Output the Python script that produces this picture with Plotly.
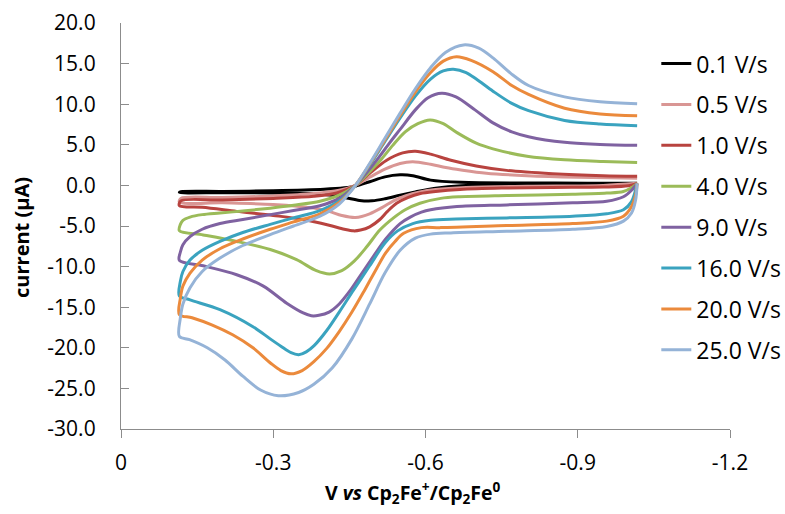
import plotly.graph_objects as go

# Scan-rate labels and line colours for each voltammogram
scan_rates = ["0.1 V/s", "0.5 V/s", "1.0 V/s", "4.0 V/s", "9.0 V/s", "16.0 V/s", "20.0 V/s", "25.0 V/s"]
colors = ["#000000", "#D99694", "#B8433F", "#9BBB59", "#7F62A1", "#3AA3BF", "#EB8A3C", "#95B3D7"]

# Each loop: cathodic sweep from the right end to the left end, then the anodic return sweep
v_01 = [-1.017, -0.90, -0.75, -0.67, -0.62, -0.58, -0.55, -0.52, -0.495, -0.47, -0.445, -0.42, -0.38, -0.30, -0.20, -0.115,
        -0.118, -0.20, -0.30, -0.40, -0.44, -0.462, -0.49, -0.52, -0.55, -0.575, -0.61, -0.67, -0.80, -0.92, -1.017]
i_01 = [0.25, 0.12, 0.05, -0.05, -0.35, -0.8, -1.2, -1.65, -1.9, -1.85, -1.55, -1.25, -1.02, -0.93, -0.9, -0.87,
        -0.78, -0.74, -0.66, -0.48, -0.3, -0.1, 0.45, 1.05, 1.3, 1.2, 0.65, 0.38, 0.3, 0.28, 0.28]

v_05 = [-1.017, -0.95, -0.80, -0.68, -0.62, -0.589, -0.56, -0.537, -0.515, -0.49, -0.462, -0.435, -0.41, -0.38, -0.30, -0.20, -0.115,
        -0.118, -0.20, -0.30, -0.38, -0.43, -0.462, -0.49, -0.52, -0.55, -0.575, -0.61, -0.64, -0.67, -0.72, -0.80, -0.90, -1.017]
i_05 = [0.25, 0.0, -0.1, -0.25, -0.5, -0.8, -1.3, -1.9, -2.7, -3.5, -3.95, -3.7, -3.2, -2.8, -2.35, -2.15, -2.05,
        -1.6, -1.5, -1.3, -1.0, -0.6, 0.0, 1.0, 2.0, 2.7, 2.9, 2.6, 2.2, 1.9, 1.5, 1.2, 1.0, 0.88]

v_10 = [-1.017, -1.0, -0.95, -0.85, -0.75, -0.668, -0.62, -0.59, -0.565, -0.543, -0.525, -0.51, -0.49, -0.472, -0.458, -0.44, -0.41, -0.36, -0.30, -0.228, -0.16, -0.115,
        -0.118, -0.20, -0.30, -0.38, -0.425, -0.462, -0.49, -0.5235, -0.555, -0.58, -0.61, -0.65, -0.70, -0.76, -0.85, -0.95, -1.017]
i_10 = [0.25, -0.05, -0.2, -0.25, -0.33, -0.5, -0.75, -1.0, -1.5, -2.2, -3.2, -4.2, -5.1, -5.5, -5.6, -5.4, -4.9, -4.2, -3.7, -3.2, -2.7, -2.5,
        -1.9, -1.8, -1.6, -1.35, -0.94, 0.0, 1.5, 3.1, 4.0, 4.2, 3.85, 3.1, 2.4, 1.85, 1.45, 1.2, 1.12]

v_40 = [-1.017, -1.006, -0.99, -0.957, -0.89, -0.76, -0.668, -0.63, -0.589, -0.56, -0.537, -0.51, -0.485, -0.46, -0.435, -0.411, -0.385, -0.346, -0.294, -0.228, -0.162, -0.115,
        -0.117, -0.122, -0.136, -0.16, -0.195, -0.24, -0.294, -0.34, -0.392, -0.43, -0.462, -0.49, -0.51, -0.535, -0.56, -0.585, -0.609, -0.635, -0.662, -0.70, -0.733, -0.80, -0.874, -0.95, -1.017]
i_40 = [0.25, -0.3, -0.75, -0.95, -1.1, -1.25, -1.4, -1.6, -2.2, -3.0, -4.0, -5.5, -7.5, -9.3, -10.5, -10.9, -10.5, -9.15, -7.9, -6.9, -6.1, -5.58,
        -4.8, -4.3, -3.9, -3.6, -3.4, -3.15, -2.8, -2.45, -1.95, -1.2, 0.0, 1.7, 3.0, 4.9, 6.6, 7.6, 8.05, 7.6, 6.5, 5.2, 4.5, 3.6, 3.15, 2.95, 2.83]

v_90 = [-1.017, -1.006, -0.99, -0.957, -0.89, -0.76, -0.662, -0.61, -0.592, -0.57, -0.55, -0.5216, -0.50, -0.476, -0.451, -0.43, -0.41, -0.39, -0.375, -0.359, -0.3265, -0.2805, -0.228, -0.162, -0.115,
        -0.117, -0.122, -0.136, -0.16, -0.195, -0.24, -0.294, -0.34, -0.392, -0.43, -0.462, -0.50, -0.53, -0.55, -0.58, -0.605, -0.632, -0.66, -0.6975, -0.733, -0.77, -0.803, -0.874, -0.944, -1.017]
i_90 = [0.25, -0.6, -1.4, -1.95, -2.15, -2.4, -2.6, -3.0, -3.3, -3.9, -4.7, -6.6, -8.5, -10.7, -13.0, -14.6, -15.6, -16.0, -16.05, -15.7, -14.5, -12.4, -11.0, -9.9, -9.24,
        -8.2, -7.3, -6.3, -5.4, -4.7, -4.2, -3.6, -3.1, -2.5, -1.6, 0.0, 2.8, 5.3, 6.9, 9.3, 10.8, 11.35, 10.9, 9.3, 7.7, 6.6, 6.0, 5.3, 5.05, 4.93]

v_160 = [-1.017, -1.006, -0.99, -0.957, -0.89, -0.76, -0.66, -0.61, -0.575, -0.545, -0.52, -0.49, -0.458, -0.43, -0.405, -0.381, -0.365, -0.35, -0.335, -0.315, -0.294, -0.26, -0.195, -0.136, -0.115,
         -0.117, -0.122, -0.136, -0.16, -0.195, -0.24, -0.294, -0.34, -0.392, -0.43, -0.462, -0.49, -0.52, -0.55, -0.58, -0.61, -0.635, -0.655, -0.68, -0.70, -0.733, -0.77, -0.803, -0.874, -0.944, -1.017]
i_160 = [0.25, -2.0, -3.0, -3.5, -3.8, -4.0, -4.15, -4.3, -4.7, -5.6, -7.1, -9.9, -12.9, -15.6, -17.9, -19.7, -20.5, -20.85, -20.6, -19.8, -18.9, -17.4, -15.3, -14.1, -13.6,
         -11.8, -10.6, -9.2, -8.0, -6.9, -5.8, -4.8, -4.0, -3.1, -1.9, 0.0, 2.5, 5.4, 8.3, 11.0, 13.1, 14.1, 14.3, 13.9, 13.1, 11.6, 10.1, 9.2, 8.0, 7.55, 7.35]

v_200 = [-1.017, -1.014, -1.006, -0.99, -0.957, -0.89, -0.76, -0.63, -0.592, -0.557, -0.54, -0.5216, -0.504, -0.48, -0.455, -0.43, -0.405, -0.38, -0.357, -0.335, -0.315, -0.295, -0.26, -0.22, -0.18, -0.14, -0.115,
         -0.117, -0.122, -0.136, -0.16, -0.195, -0.24, -0.294, -0.34, -0.392, -0.43, -0.462, -0.49, -0.52, -0.55, -0.58, -0.61, -0.635, -0.661, -0.69, -0.733, -0.77, -0.803, -0.874, -0.944, -1.017]
i_200 = [0.25, -1.2, -2.6, -3.8, -4.4, -4.7, -4.95, -5.2, -5.2, -5.9, -6.9, -8.3, -10.2, -12.9, -15.6, -18.0, -20.1, -21.7, -22.8, -23.2, -22.8, -21.9, -20.0, -18.4, -17.2, -16.3, -15.9,
         -13.9, -12.4, -10.8, -9.2, -7.8, -6.6, -5.4, -4.5, -3.5, -2.1, 0.0, 2.6, 5.6, 8.6, 11.5, 13.9, 15.3, 15.85, 15.4, 14.0, 12.3, 11.2, 9.5, 8.8, 8.58]

v_250 = [-1.017, -1.014, -1.006, -0.99, -0.957, -0.89, -0.76, -0.65, -0.61, -0.58, -0.55, -0.52, -0.49, -0.455, -0.416, -0.38, -0.35, -0.31, -0.275, -0.24, -0.205, -0.17, -0.135, -0.115,
         -0.117, -0.122, -0.136, -0.16, -0.195, -0.24, -0.294, -0.34, -0.392, -0.43, -0.462, -0.49, -0.52, -0.55, -0.58, -0.61, -0.64, -0.675, -0.705, -0.733, -0.768, -0.803, -0.874, -0.944, -1.017]
i_250 = [0.25, -1.8, -3.4, -4.4, -5.05, -5.4, -5.65, -5.85, -6.0, -6.5, -8.0, -10.8, -14.6, -18.9, -22.5, -24.5, -25.5, -25.9, -25.2, -23.5, -21.5, -20.0, -19.0, -18.6,
         -16.3, -14.6, -12.6, -10.6, -8.95, -7.4, -6.07, -5.0, -3.8, -2.3, 0.0, 2.7, 5.8, 8.9, 11.9, 14.5, 16.4, 17.3, 16.9, 15.7, 13.8, 12.3, 10.9, 10.3, 10.06]

potentials = [v_01, v_05, v_10, v_40, v_90, v_160, v_200, v_250]
currents = [i_01, i_05, i_10, i_40, i_90, i_160, i_200, i_250]

# Axis ticks
x_tickvals = [0, -0.3, -0.6, -0.9, -1.2]
x_ticktext = ["0", "-0.3", "-0.6", "-0.9", "-1.2"]
y_tickvals = [20, 15, 10, 5, 0, -5, -10, -15, -20, -25, -30]
y_ticktext = ["20.0", "15.0", "10.0", "5.0", "0.0", "-5.0", "-10.0", "-15.0", "-20.0", "-25.0", "-30.0"]

FONT = "Open Sans, Liberation Sans, sans-serif"

fig = go.Figure()
for k, (name, col) in enumerate(zip(scan_rates, colors)):
    fig.add_trace(go.Scatter(
        x=potentials[k], y=currents[k], mode="lines", name=name,
        legendgroup=name,
        line=dict(color=col, width=3, shape="spline", smoothing=0.9),
    ))

axis_grey = "#8C8C8C"
fig.update_layout(
    width=785, height=514,
    margin=dict(l=121, r=55, t=23, b=85, autoexpand=False),
    paper_bgcolor="white", plot_bgcolor="white",
    font=dict(family=FONT, color="#000000", size=21),
    showlegend=True,
    legend=dict(
        x=0.879, xanchor="left", y=0.953, yanchor="top",
        font=dict(family=FONT, size=23, color="#000000"),
        bgcolor="rgba(0,0,0,0)", borderwidth=0,
        tracegroupgap=8,
    ),
    xaxis=dict(
        range=[0, -1.2], tickvals=x_tickvals, ticktext=x_ticktext,
        showgrid=False, zeroline=False, showline=True, linecolor=axis_grey, linewidth=1.3,
        ticks="outside", ticklen=8, tickcolor=axis_grey, tickwidth=1.3,
        ticklabelstandoff=7,
        tickfont=dict(family=FONT, size=21, color="#000000"),
    ),
    yaxis=dict(
        range=[-30, 20], tickvals=y_tickvals, ticktext=y_ticktext,
        showgrid=False, zeroline=False, showline=True, linecolor=axis_grey, linewidth=1.3,
        ticks="inside", ticklen=8, tickcolor=axis_grey, tickwidth=1.3,
        ticklabelstandoff=20,
        tickfont=dict(family=FONT, size=21, color="#000000"),
    ),
    annotations=[
        dict(text="<b>V <i>vs</i> Cp<sub>2</sub>Fe<sup>+</sup>/Cp<sub>2</sub>Fe<sup>0</sup></b>",
             xref="paper", yref="paper", x=0.4795, y=-0.157, xanchor="center", yanchor="middle",
             showarrow=False, font=dict(family=FONT, size=19.5, color="#000000")),
        dict(text="<b>current (µA)</b>", textangle=-90,
             xref="paper", yref="paper", x=-0.1626, y=0.473, xanchor="center", yanchor="middle",
             showarrow=False, font=dict(family=FONT, size=20, color="#000000")),
    ],
)

fig.write_html("out.html")
